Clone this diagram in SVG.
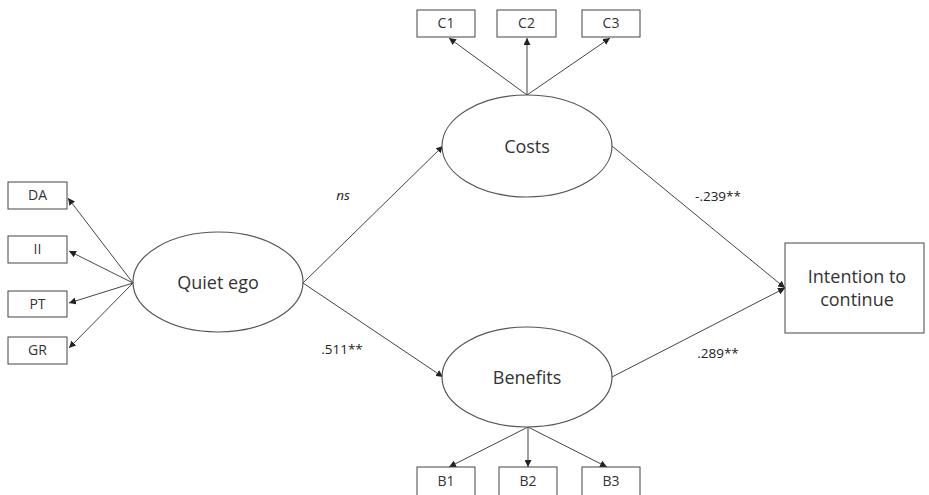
<svg xmlns="http://www.w3.org/2000/svg" width="929" height="495" viewBox="0 0 929 495">
<defs>
<marker id="ah" viewBox="0 0 10 10" refX="10" refY="5" markerWidth="7" markerHeight="7" markerUnits="userSpaceOnUse" orient="auto">
<path d="M0,0 L10,5 L0,10 z" fill="#222"/>
</marker>
<style>
.box{fill:#fff;stroke:#444;stroke-width:1}
.ell{fill:#fff;stroke:#555;stroke-width:1.2}
.small{font-family:"Open Sans","Liberation Sans",sans-serif;font-size:14px;fill:#333;text-anchor:middle}
.big{font-family:"Open Sans","Liberation Sans",sans-serif;font-size:18px;fill:#333;text-anchor:middle}
.lab{font-family:"Open Sans","Liberation Sans",sans-serif;font-size:13.5px;fill:#222;text-anchor:middle}
.c{stroke:#444;stroke-width:1;fill:none;marker-end:url(#ah)}
</style>
</defs>
<rect width="929" height="495" fill="#fff"/>
<g id="connectors">
<line class="c" x1="133" y1="283" x2="68" y2="198"/>
<line class="c" x1="133" y1="283" x2="69" y2="251"/>
<line class="c" x1="133" y1="283" x2="69" y2="303"/>
<line class="c" x1="133" y1="283" x2="69" y2="348"/>
<line class="c" x1="527" y1="95" x2="449" y2="38"/>
<line class="c" x1="527" y1="95" x2="527" y2="38"/>
<line class="c" x1="527" y1="95" x2="610" y2="38"/>
<line class="c" x1="528" y1="427" x2="449" y2="467"/>
<line class="c" x1="528" y1="427" x2="528" y2="467"/>
<line class="c" x1="528" y1="427" x2="607" y2="467"/>
<line class="c" x1="303" y1="283" x2="443" y2="146"/>
<line class="c" x1="303" y1="283" x2="443" y2="377"/>
<line class="c" x1="612" y1="146" x2="785" y2="288"/>
<line class="c" x1="612" y1="377" x2="785" y2="288"/>
<text class="lab" x="343" y="200" font-style="italic">ns</text>
<text class="lab" x="342" y="354">.511**</text>
<text class="lab" x="718" y="201">-.239**</text>
<text class="lab" x="718" y="358">.289**</text>
</g>
<g id="DA"><rect class="box" x="8" y="182" width="59" height="27"/><text class="small" x="37.5" y="200">DA</text></g>
<g id="II"><rect class="box" x="8" y="236" width="59" height="27"/><text class="small" x="37.5" y="254">II</text></g>
<g id="PT"><rect class="box" x="8" y="291" width="59" height="26"/><text class="small" x="37.5" y="309">PT</text></g>
<g id="GR"><rect class="box" x="8" y="337" width="59" height="27"/><text class="small" x="37.5" y="355">GR</text></g>
<g id="quiet-ego"><ellipse class="ell" cx="218" cy="282" rx="85" ry="50"/><text class="big" x="218" y="289">Quiet ego</text></g>
<g id="C1"><rect class="box" x="417" y="10" width="58" height="27"/><text class="small" x="446" y="28">C1</text></g>
<g id="C2"><rect class="box" x="497" y="10" width="59" height="27"/><text class="small" x="526.5" y="28">C2</text></g>
<g id="C3"><rect class="box" x="582" y="10" width="58" height="27"/><text class="small" x="611" y="28">C3</text></g>
<g id="costs"><ellipse class="ell" cx="527" cy="146" rx="85" ry="51"/><text class="big" x="527" y="153">Costs</text></g>
<g id="benefits"><ellipse class="ell" cx="527" cy="377" rx="85" ry="50"/><text class="big" x="527" y="384">Benefits</text></g>
<g id="B1"><rect class="box" x="417" y="467" width="58" height="30"/><text class="small" x="446" y="486">B1</text></g>
<g id="B2"><rect class="box" x="499" y="467" width="58" height="30"/><text class="small" x="528" y="486">B2</text></g>
<g id="B3"><rect class="box" x="582" y="467" width="58" height="30"/><text class="small" x="611" y="486">B3</text></g>
<g id="intention"><rect class="box" x="785" y="243" width="139" height="90"/><text class="big" x="857" y="283">Intention to</text><text class="big" x="857" y="306">continue</text></g>
</svg>
